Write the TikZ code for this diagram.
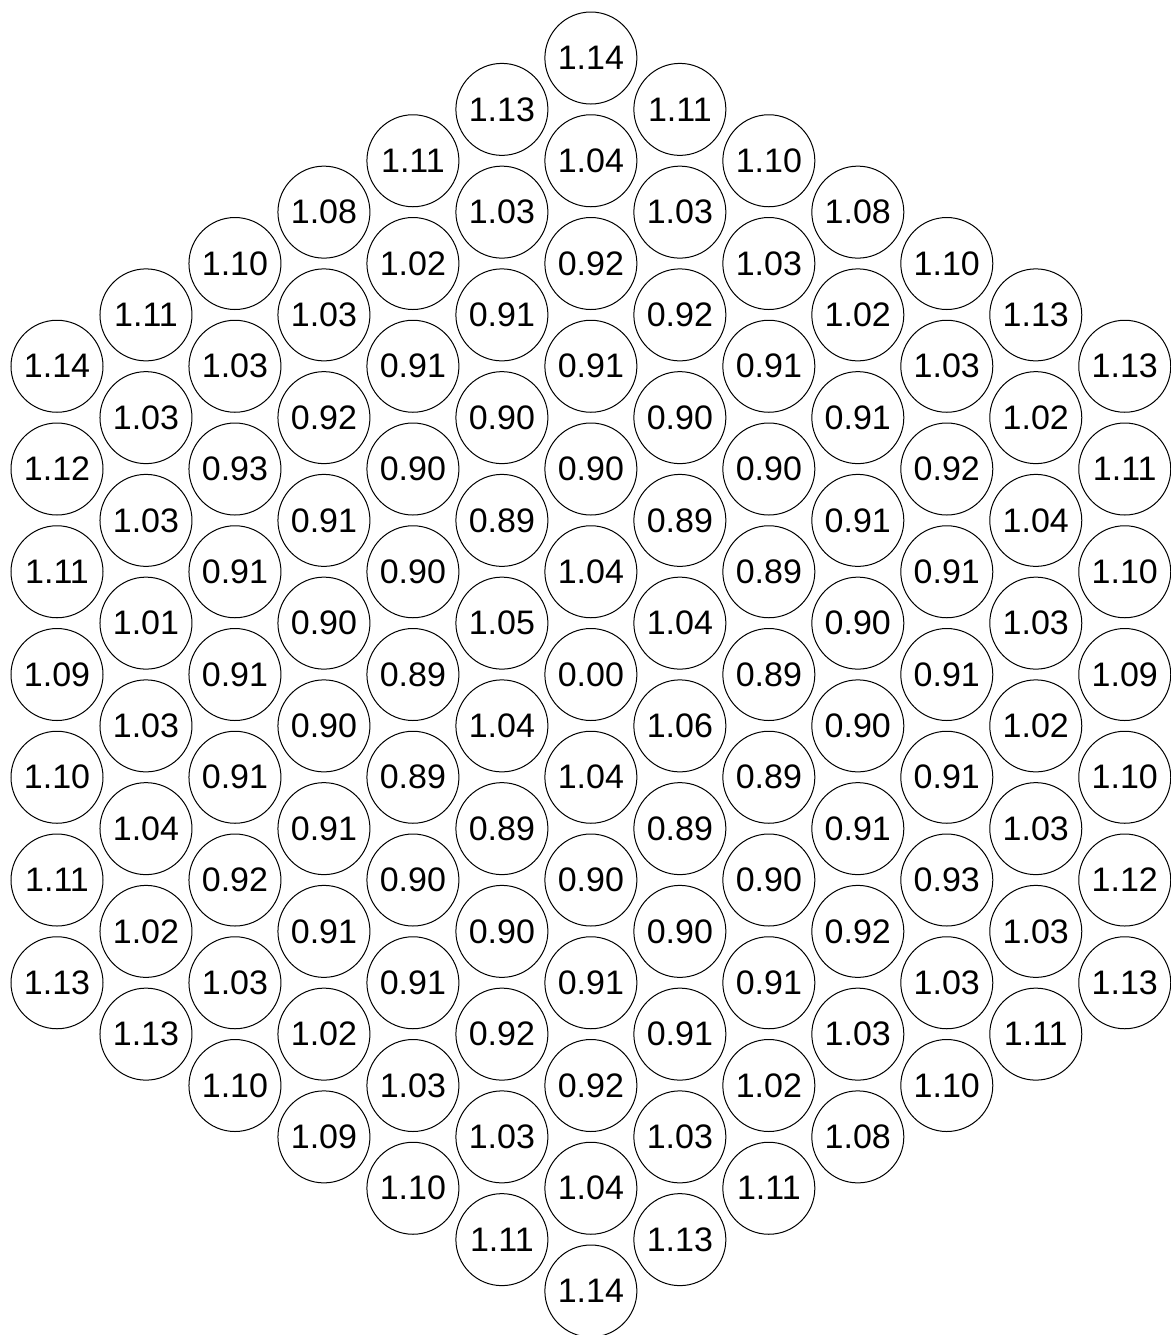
\documentclass[tikz,border=0pt]{standalone}
\usepackage{fontspec}
\setmainfont{Liberation Sans}
\begin{document}
\begin{tikzpicture}[x=0.5pt,y=-0.5pt,
  cell/.style={draw=black,line width=0.5pt,circle,minimum size=46pt,inner sep=0pt,font=\fontsize{17}{20}\selectfont}]
\useasboundingbox (0,0) rectangle (1171,1335);
\foreach \vals [count=\i from 0] in {
 {1.14,1.12,1.11,1.09,1.10,1.11,1.13},
 {1.11,1.03,1.03,1.01,1.03,1.04,1.02,1.13},
 {1.10,1.03,0.93,0.91,0.91,0.91,0.92,1.03,1.10},
 {1.08,1.03,0.92,0.91,0.90,0.90,0.91,0.91,1.02,1.09},
 {1.11,1.02,0.91,0.90,0.90,0.89,0.89,0.90,0.91,1.03,1.10},
 {1.13,1.03,0.91,0.90,0.89,1.05,1.04,0.89,0.90,0.92,1.03,1.11},
 {1.14,1.04,0.92,0.91,0.90,1.04,0.00,1.04,0.90,0.91,0.92,1.04,1.14},
 {1.11,1.03,0.92,0.90,0.89,1.04,1.06,0.89,0.90,0.91,1.03,1.13},
 {1.10,1.03,0.91,0.90,0.89,0.89,0.89,0.90,0.91,1.02,1.11},
 {1.08,1.02,0.91,0.91,0.90,0.90,0.91,0.92,1.03,1.08},
 {1.10,1.03,0.92,0.91,0.91,0.91,0.93,1.03,1.10},
 {1.13,1.02,1.04,1.03,1.02,1.03,1.03,1.11},
 {1.13,1.11,1.10,1.09,1.10,1.12,1.13}} {
  \pgfmathtruncatemacro{\k}{abs(\i-6)}
  \foreach \v [count=\j from 0] in \vals {
    \pgfmathsetmacro{\xx}{57+88.98*\i}
    \pgfmathsetmacro{\yy}{58+51.375*(\k+2*\j)}
    \node[cell] (c\i-\j) at (\xx,\yy) {\v};
  }
}
\end{tikzpicture}
\end{document}
